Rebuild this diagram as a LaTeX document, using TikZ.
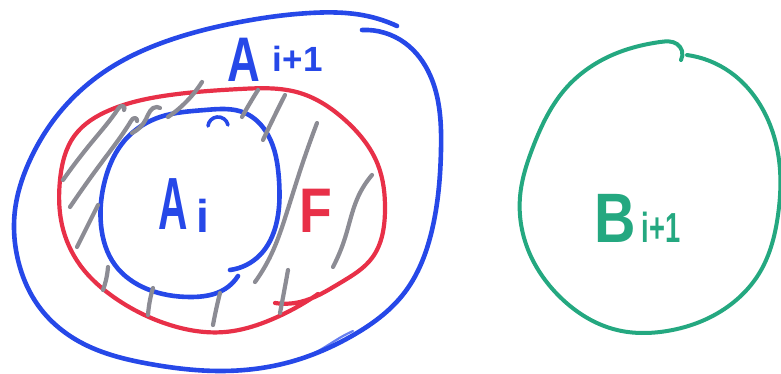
\documentclass[tikz,border=0pt]{standalone}
\usepackage{fontspec}
\setmainfont{Liberation Sans}
\usepackage{graphicx}
\usetikzlibrary{hobby}
\definecolor{penblue}{RGB}{38,72,232}
\definecolor{penred}{RGB}{232,48,72}
\definecolor{penteal}{RGB}{36,168,128}
\definecolor{pengray}{RGB}{140,140,148}
\tikzset{
  pen/.style={line width=4.6pt, line cap=round, line join=round, use Hobby shortcut},
  bluepen/.style={pen, draw=penblue},
  redpen/.style={pen, draw=penred, line width=4.2pt},
  tealpen/.style={pen, draw=penteal, line width=4pt},
  hatch/.style={pen, draw=pengray, line width=4.2pt},
  lbl/.style={inner sep=0pt, anchor=base west, font=\bfseries},
}
\begin{document}
\begin{tikzpicture}[x=1pt,y=-1pt]
\useasboundingbox (0,0) rectangle (781,374);
% outer blue A_{i+1}
\draw[bluepen] (362,30)..(405,43)..(430,75)..(441,150)..(432,230)..(405,292)..(350,337)..(290,362)..(220,371)..(150,364)..(80,342)..(40,308)..(18,260)..(15,210)..(30,160)..(60,112)..(110,68)..(170,40)..(240,22)..(310,13)..(367,16)..(397,26);
\draw[bluepen, line width=2.2pt, opacity=0.7] (293,362)..(320,350)..(343,336)..(353,331);
% red F region
\draw[redpen] (275,303)..(300,302)..(340,283)..(372,258)..(385,210)..(378,165)..(345,120)..(300,93)..(240,89)..(170,95)..(110,110)..(75,135)..(60,180)..(62,225)..(80,265)..(115,298)..(170,325)..(225,332)..(275,318)..(318,294);
% inner blue A_i
\draw[bluepen] (238,276)..(225,289)..(190,297)..(147,289)..(115,265)..(101,225)..(105,180)..(125,140)..(160,117)..(205,110)..(245,113)..(268,135)..(279,180)..(276,225)..(260,255)..(230,270);
\draw[bluepen, line width=3.6pt] (208,126)..(217,117)..(228,125);
% hatching
\draw[hatch] (63,180)..(92,142)..(118,109)..(123,106)..(124,110);
\draw[hatch] (70,207)..(102,162)..(131,121)..(135,118)..(137,121);
\draw[hatch] (132,133)..(146,119)..(157,107)..(160,108);
\draw[hatch] (168,117)..(187,101)..(202,82);
\draw[hatch] (242,117)..(250,103)..(258,90);
\draw[hatch] (263,140)..(274,117)..(285,95);
\draw[hatch] (317,123)..(301,168)..(286,215)..(271,255)..(255,282);
\draw[hatch] (372,175)..(358,197)..(345,238)..(333,267);
\draw[hatch] (77,247)..(88,225)..(98,205);
\draw[hatch] (108,267)..(106,280)..(103,290);
\draw[hatch] (153,288)..(150,300)..(148,315);
\draw[hatch] (220,293)..(216,310)..(213,325);
\draw[hatch] (288,270)..(284,292)..(280,313);
% teal B_{i+1}
\draw[tealpen] (687,55)..(730,72)..(762,108)..(779,160)..(778,215)..(760,272)..(718,313)..(667,331)..(617,330)..(560,297)..(527,247)..(520,197)..(533,147)..(567,87)..(617,53)..(660,42)..(677,44)..(682,51)..(681,60);
% labels
\node[lbl, text=penblue] (aip1) at (227,82) {\scalebox{0.72}[1]{\fontsize{63}{63}\selectfont A}\hspace{13pt}\raisebox{10pt}{\fontsize{35}{35}\selectfont i+1}};
\node[lbl, text=penblue] (ai) at (158,229) {\scalebox{0.55}[1]{\fontsize{74}{74}\selectfont A}\hspace{9pt}\raisebox{-3pt}{\fontsize{46}{46}\selectfont i}};
\node[lbl, text=penred] (f) at (299,232) {\scalebox{0.85}[1]{\fontsize{63}{63}\selectfont F}};
\node[lbl, text=penteal] (bip1) at (594,242) {\scalebox{0.82}[1]{\fontsize{70}{70}\selectfont B}\hspace{6pt}\scalebox{0.65}[1]{\fontsize{42}{42}\selectfont i+1}};
\end{tikzpicture}
\end{document}
